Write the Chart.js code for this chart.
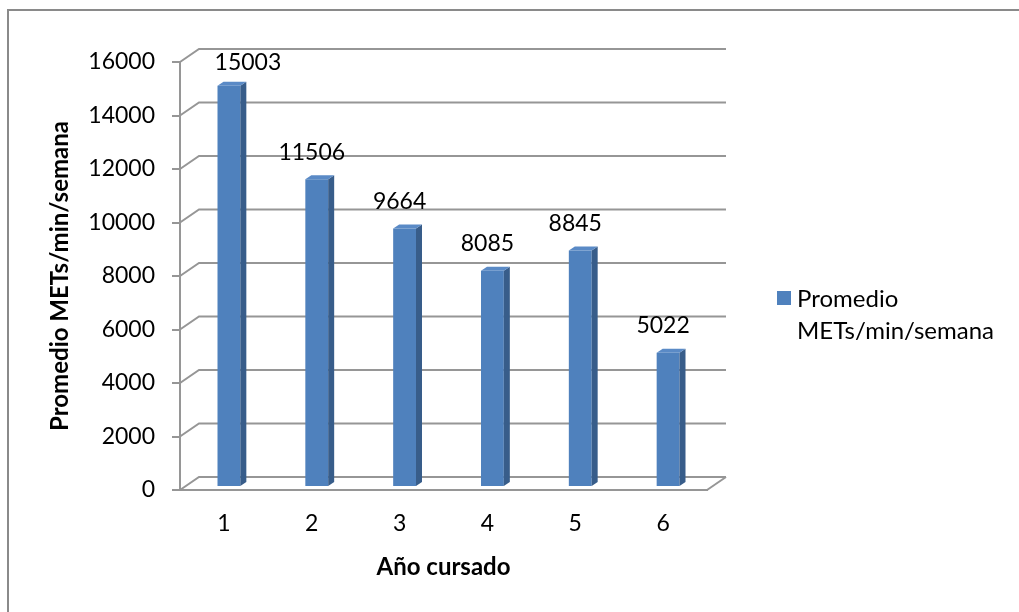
<!DOCTYPE html>
<html>
<head>
<meta charset="utf-8">
<script src="https://cdn.jsdelivr.net/npm/chart.js@4"></script>
<style>
  html, body { margin: 0; padding: 0; background: #fff; }
  #wrap { width: 1019px; height: 612px; }
</style>
</head>
<body>
<div id="wrap"><canvas id="myChart" width="1019" height="612"></canvas></div>
<script>
const categories = ["1", "2", "3", "4", "5", "6"];
const values = [15003, 11506, 9664, 8085, 8845, 5022];
const seriesName = "Promedio METs/min/semana";
const legendLines = ["Promedio", "METs/min/semana"];
const yTitle = "Promedio METs/min/semana";
const xTitle = "Año cursado";

const font = "Lato";
const blue = "#4f81bd";
const blueSide = "#385d8a";
const blueTop = "#5a8ac6";
const gridColor = "#969696";

// depth of the 3d box and of the bars
const depth = { dx: 19, dy: 13 };
const barDepth = { dx: 6, dy: 4 };
const barShift = { dx: 5, dy: -3 };

// back wall grid, bars shifted into the box
const wall = {
  id: "wall",
  beforeDatasetsDraw(chart) {
    const { ctx, chartArea: { left, right, bottom }, scales: { y } } = chart;
    ctx.save();
    ctx.strokeStyle = gridColor;
    ctx.lineWidth = 2;
    y.ticks.forEach((t) => {
      const py = y.getPixelForValue(t.value);
      ctx.beginPath();
      ctx.moveTo(left, py);
      ctx.lineTo(left + depth.dx, py - depth.dy);
      ctx.lineTo(right + depth.dx, py - depth.dy);
      ctx.stroke();
    });
    // floor right edge
    ctx.beginPath();
    ctx.moveTo(right, bottom);
    ctx.lineTo(right + depth.dx, bottom - depth.dy);
    ctx.stroke();
    ctx.restore();

    ctx.save();
    ctx.translate(barShift.dx, barShift.dy);
  },
  afterDatasetsDraw(chart) {
    const { ctx } = chart;
    const meta = chart.getDatasetMeta(0);
    meta.data.forEach((bar) => {
      const w = bar.width / 2;
      const top = bar.y;
      const base = bar.base;
      ctx.fillStyle = blueSide;
      ctx.beginPath();
      ctx.moveTo(bar.x + w, top);
      ctx.lineTo(bar.x + w + barDepth.dx, top - barDepth.dy);
      ctx.lineTo(bar.x + w + barDepth.dx, base - barDepth.dy);
      ctx.lineTo(bar.x + w, base);
      ctx.closePath();
      ctx.fill();
      ctx.fillStyle = blueTop;
      ctx.beginPath();
      ctx.moveTo(bar.x - w, top);
      ctx.lineTo(bar.x - w + barDepth.dx, top - barDepth.dy);
      ctx.lineTo(bar.x + w + barDepth.dx, top - barDepth.dy);
      ctx.lineTo(bar.x + w, top);
      ctx.closePath();
      ctx.fill();
    });
    ctx.restore();
  },
};

// value labels, legend, frame
const extras = {
  id: "extras",
  afterDraw(chart) {
    const { ctx, chartArea: { top } } = chart;
    const meta = chart.getDatasetMeta(0);
    ctx.save();
    ctx.font = "23px " + font;
    ctx.fillStyle = "#000";
    ctx.textAlign = "center";
    ctx.textBaseline = "middle";
    meta.data.forEach((bar, i) => {
      let x = bar.x;
      let y = bar.y + barShift.dy - 27;
      if (y < top) {
        y = top + 1;
        x += 24;
      }
      ctx.fillText(values[i], x, y);
    });

    // legend
    ctx.font = "24px " + font;
    ctx.fillStyle = blue;
    ctx.fillRect(777, 291, 14, 14);
    ctx.fillStyle = "#000";
    ctx.textAlign = "left";
    ctx.fillText(legendLines[0], 797, 299);
    ctx.fillText(legendLines[1], 797, 331);

    // chart frame
    ctx.strokeStyle = "#8a8a8a";
    ctx.lineWidth = 2;
    ctx.beginPath();
    ctx.moveTo(8, 612);
    ctx.lineTo(8, 10);
    ctx.lineTo(1019, 10);
    ctx.stroke();
    ctx.restore();
  },
};

const config = {
  type: "bar",
  data: {
    labels: categories,
    datasets: [
      {
        label: seriesName,
        data: values,
        backgroundColor: blue,
        categoryPercentage: 1,
        barPercentage: 0.26,
      },
    ],
  },
  options: {
    responsive: false,
    animation: false,
    layout: { padding: { left: 0, right: 312, top: 62, bottom: 0 } },
    scales: {
      x: {
        afterFit: (s) => { s.height = 122; },
        grid: { display: false, drawTicks: false },
        border: { display: true, color: gridColor, width: 2 },
        ticks: { color: "#000", font: { family: font, size: 23 }, padding: 20 },
        title: {
          display: true,
          text: xTitle,
          color: "#000",
          font: { family: font, size: 24, weight: "bold" },
          padding: { top: 0, bottom: 30 },
        },
      },
      y: {
        min: 0,
        max: 16000,
        afterFit: (s) => { s.width = 180; },
        ticks: {
          stepSize: 2000,
          color: "#000",
          font: { family: font, size: 23 },
          padding: 17,
          callback: (v) => String(v),
        },
        grid: { drawOnChartArea: false, tickLength: 8, color: gridColor, lineWidth: 2 },
        border: { display: true, color: gridColor, width: 2 },
        title: {
          display: true,
          text: yTitle,
          color: "#000",
          font: { family: font, size: 24, weight: "bold" },
          padding: { top: 46, bottom: 0 },
        },
      },
    },
    plugins: {
      legend: { display: false },
      tooltip: { enabled: false },
    },
  },
  plugins: [wall, extras],
};

const myChart = new Chart(document.getElementById("myChart"), config);
</script>
</body>
</html>
